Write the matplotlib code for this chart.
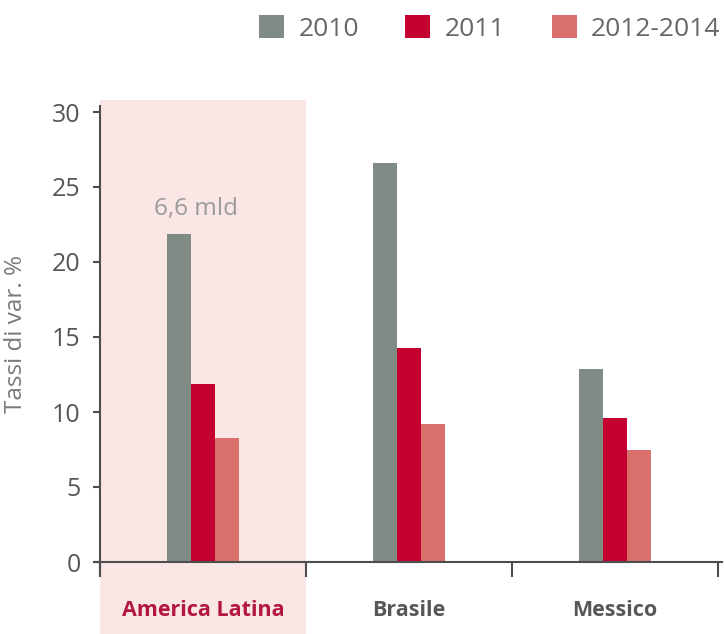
import numpy as np
import matplotlib
matplotlib.use("Agg")
import matplotlib.pyplot as plt
from matplotlib.patches import Patch

# data
categories = ["America Latina", "Brasile", "Messico"]
series = ["2010", "2011", "2012-2014"]
v2010 = [21.9, 26.6, 12.9]
v2011 = [11.9, 14.3, 9.6]
v2012_2014 = [8.3, 9.2, 7.5]
yticks = [0, 5, 10, 15, 20, 25, 30]
note = "6,6 mld"

colors = ["#7f8b84", "#c3002f", "#d9706b"]
axis_col = "#4d4d4d"
text_col = "#575757"

plt.rcParams["font.family"] = ["Open Sans", "DejaVu Sans"]

fig = plt.figure(figsize=(7.24, 6.34), dpi=100)
ax = fig.add_axes([94 / 724, 60 / 634, 628 / 724, 468 / 634])

x = np.arange(len(categories))
w = 0.116
ax.axvspan(-0.5, 0.5, ymin=-0.13, ymax=1.013, color="#f9e6e5", lw=0, clip_on=False, zorder=0)
for i, vals in enumerate([v2010, v2011, v2012_2014]):
    ax.bar(x + (i - 1) * w, vals, w, color=colors[i], zorder=2)

ax.set_xlim(-0.53, 2.52)
ax.set_ylim(-0.8, 30.4)
ax.set_facecolor("none")

for s in ["top", "right"]:
    ax.spines[s].set_visible(False)
ax.spines["left"].set_position(("data", -0.5))
ax.spines["bottom"].set_position(("data", 0))
for s in ["left", "bottom"]:
    ax.spines[s].set_color(axis_col)
    ax.spines[s].set_linewidth(1.5)

ax.set_yticks(yticks)
ax.set_yticklabels([str(t) for t in yticks])
ax.tick_params(axis="y", direction="out", length=5, width=1.5, color=axis_col,
               labelsize=18, labelcolor=text_col, pad=9)
ax.set_xticks([-0.5, 0.5, 1.5, 2.5])
ax.set_xticklabels([])
ax.tick_params(axis="x", direction="out", length=11, width=1.5, color=axis_col)

ax.set_ylabel("Tassi di var. %", fontsize=17.5, color="#7a7a7a")
ax.yaxis.set_label_coords(-0.105, 0.513)

label_cols = ["#b3163f", text_col, text_col]
for i, c in enumerate(categories):
    ax.text(x[i], -3.2, c, ha="center", va="center", fontsize=15.5, fontweight="bold",
            color=label_cols[i], clip_on=False)

ax.text(-0.035, 23.5, note, ha="center", va="center", fontsize=17.5, color="#9b9b9b")

handles = [Patch(facecolor=colors[i], edgecolor="none", label=series[i]) for i in range(3)]
fig.legend(handles=handles, loc="center right", bbox_to_anchor=(1.028, 0.955), ncol=3,
           frameon=False, fontsize=19, handlelength=0.95, handleheight=0.95,
           handletextpad=0.55, columnspacing=1.75, labelcolor="#666666")

fig.savefig("out.png", dpi=100)
